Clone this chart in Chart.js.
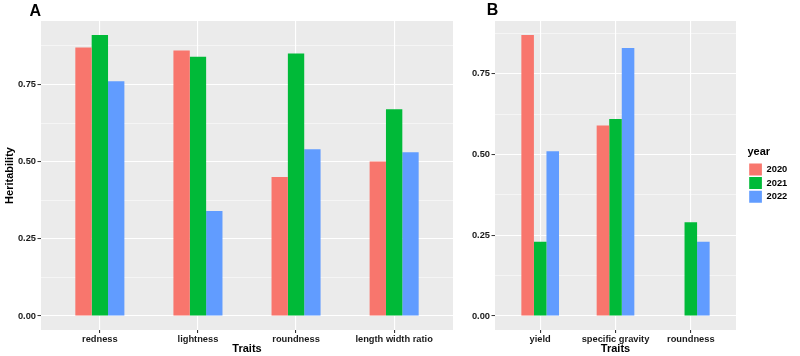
<!DOCTYPE html>
<html>
<head>
<meta charset="utf-8">
<script src="https://cdn.jsdelivr.net/npm/chart.js@4"></script>
<style>
  html, body { margin: 0; padding: 0; background: #fff; }
  #wrap { position: relative; width: 800px; height: 356px; overflow: hidden; }
  #chartA { position: absolute; left: 0; top: 0; }
  #chartB { position: absolute; left: 460px; top: 0; }
</style>
</head>
<body>
<div id="wrap">
  <canvas id="chartA" width="460" height="356"></canvas>
  <canvas id="chartB" width="340" height="356"></canvas>
</div>
<script>
const years = ["2020", "2021", "2022"];
const colors = ["#F8766D", "#00BA38", "#619CFF"];

// panel A
const traitsA = ["redness", "lightness", "roundness", "length width ratio"];
const a2020 = [0.87, 0.86, 0.45, 0.50];
const a2021 = [0.91, 0.84, 0.85, 0.67];
const a2022 = [0.76, 0.34, 0.54, 0.53];

// panel B (no 2020 value for roundness)
const traitsB = ["yield", "specific gravity", "roundness"];
const b2020 = [0.87, 0.59, null];
const b2021 = [0.23, 0.61, 0.29];
const b2022 = [0.51, 0.83, 0.23];

const yMajor = [0, 0.25, 0.5, 0.75];
const yMinor = [0.125, 0.375, 0.625, 0.875];

Chart.defaults.font.family = "'Liberation Sans', Arial, sans-serif";
Chart.defaults.animation = false;

const textColor = "#1a1a1a";
const tickFont = { size: 9.3, weight: "bold" };
const titleFont = { size: 11, weight: "bold" };

const panelBg = {
  id: "panelBg",
  beforeDraw(chart) {
    const { ctx, chartArea: a } = chart;
    ctx.save();
    ctx.fillStyle = "#EBEBEB";
    ctx.fillRect(a.left, a.top, a.right - a.left, a.bottom - a.top);
    ctx.restore();
  }
};

function tag(text, x, y) {
  return {
    id: "tag",
    afterDraw(chart) {
      const ctx = chart.ctx;
      ctx.save();
      ctx.font = "bold 16px 'Liberation Sans', Arial, sans-serif";
      ctx.fillStyle = "#000";
      ctx.textBaseline = "alphabetic";
      ctx.fillText(text, x, y);
      ctx.restore();
    }
  };
}

function makeDatasets(cats, series) {
  return series.map((vals, i) => ({
    label: years[i],
    data: vals.map((v, j) => ({ x: j, y: v })),
    backgroundColor: colors[i],
    borderColor: colors[i],
    borderWidth: 0,
    categoryPercentage: 0.5,
    barPercentage: 1
  }));
}

function xScale(cats) {
  return {
    type: "linear",
    min: -0.6,
    max: cats.length - 0.4,
    offset: false,
    afterBuildTicks: s => { s.ticks = cats.map((_, i) => ({ value: i })); },
    afterFit: s => { s.height = 26; },
    border: { display: false },
    grid: { offset: false, color: "#fff", lineWidth: 1.1, tickColor: "#333", tickLength: 3 },
    ticks: {
      autoSkip: false, maxRotation: 0, minRotation: 0, padding: 0.5,
      color: textColor, font: tickFont,
      callback: v => cats[v]
    },
    title: { display: true, text: "Traits", padding: 0, color: "#000", font: titleFont }
  };
}

function yScale(top, width, showTitle) {
  return {
    type: "linear",
    min: -top * 0.05,
    max: top * 1.05,
    afterBuildTicks: s => {
      s.ticks = yMajor.concat(yMinor).filter(v => v <= s.max).sort((p, q) => p - q).map(v => ({ value: v }));
    },
    afterFit: s => { s.width = width; },
    border: { display: false },
    grid: {
      color: "#fff",
      lineWidth: c => (c.tick && yMajor.includes(c.tick.value)) ? 1.1 : 0.5,
      tickColor: c => (c.tick && yMajor.includes(c.tick.value)) ? "#333" : "rgba(0,0,0,0)",
      tickLength: 3.5,
      tickWidth: 1
    },
    ticks: {
      padding: 1.5, color: textColor, font: tickFont,
      callback: v => yMajor.includes(v) ? v.toFixed(2) : ""
    },
    title: { display: showTitle, text: "Heritability", padding: { top: 3, bottom: 0 }, color: "#000", font: titleFont }
  };
}

const seriesA = [a2020, a2021, a2022];
const maxA = Math.max(...seriesA.flat());
new Chart(document.getElementById("chartA"), {
  type: "bar",
  data: { datasets: makeDatasets(traitsA, seriesA) },
  options: {
    responsive: false,
    events: [],
    layout: { padding: { left: 0, right: 7, top: 21, bottom: 0 } },
    plugins: { legend: { display: false }, tooltip: { enabled: false } },
    scales: { x: xScale(traitsA), y: yScale(maxA, 41, true) }
  },
  plugins: [panelBg, tag("A", 29.5, 15.5)]
});

const seriesB = [b2020, b2021, b2022];
const maxB = Math.max(...seriesB.flat().filter(v => v !== null));
new Chart(document.getElementById("chartB"), {
  type: "bar",
  data: { datasets: makeDatasets(traitsB, seriesB) },
  options: {
    responsive: false,
    events: [],
    layout: { padding: { left: 0, right: 12.5, top: 21, bottom: 0 } },
    plugins: {
      tooltip: { enabled: false },
      legend: {
        position: "right",
        align: "center",
        fullSize: false,
        maxWidth: 40,
        title: { display: true, text: "year", position: "start", padding: { top: 0, bottom: 2 }, color: "#000", font: titleFont },
        labels: { boxWidth: 12.7, boxHeight: 12, padding: 1.7, color: "#000", font: tickFont }
      }
    },
    scales: {
      x: xScale(traitsB),
      y: yScale(maxB, 35, false),
      gap: {
        type: "linear", position: "right", display: true,
        grid: { display: false, drawTicks: false },
        ticks: { display: false },
        border: { display: false },
        afterFit: s => { s.width = 11.5; }
      }
    }
  },
  plugins: [panelBg, tag("B", 26.7, 15)]
});
</script>
</body>
</html>
